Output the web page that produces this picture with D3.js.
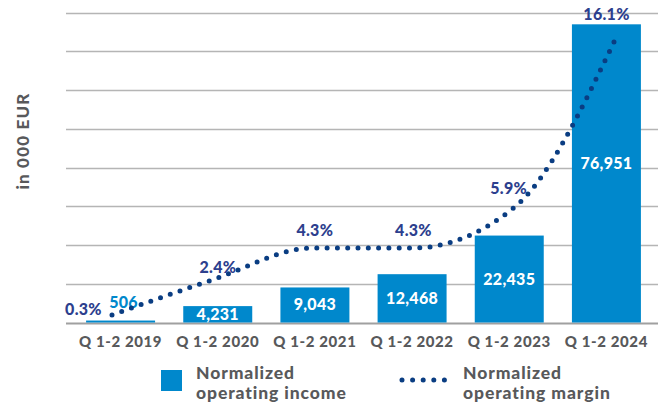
<!DOCTYPE html>
<html><head><meta charset="utf-8">
<script src="https://cdn.jsdelivr.net/npm/d3@7/dist/d3.min.js"></script>
<style>body{margin:0;background:#fff}svg{display:block}text{font-family:Lato,Roboto,sans-serif;font-weight:900}</style>
</head><body><svg id="c" width="662" height="405"></svg>
<script>
const categories = ["Q 1-2 2019","Q 1-2 2020","Q 1-2 2021","Q 1-2 2022","Q 1-2 2023","Q 1-2 2024"];
const incomeValues = [506, 4231, 9043, 12468, 22435, 76951];
const incomeLabels = ["506","4,231","9,043","12,468","22,435","76,951"];
const marginValues = [0.3, 2.4, 4.3, 4.3, 5.9, 16.1];
const marginLabels = ["0.3%","2.4%","4.3%","4.3%","5.9%","16.1%"];
const yTicks = [0,10000,20000,30000,40000,50000,60000,70000,80000];
const legendLabels = [["Normalized","operating income"],["Normalized","operating margin"]];

const BAR="#0088cc", LINE="#0a3d82", PCT="#2d3f8e", GRAY="#58595b", GRID="#b5b5b5";
const svg = d3.select("#c");

const x = d3.scaleBand().domain(categories).range([72,655]).paddingInner(0.29).paddingOuter(0.145);
const y = d3.scaleLinear().domain([0,80000]).range([322.5,12.5]);
const xl = d3.scalePoint().domain(categories).range([112,614]);
const y2 = d3.scaleLinear().domain([0.3,4.3,5.9,16.1]).range([315,248,208,42]);

svg.append("g").selectAll("line").data(yTicks).join("line")
  .attr("x1",66).attr("x2",658).attr("y1",d=>Math.round(y(d))+0.5).attr("y2",d=>Math.round(y(d))+0.5)
  .attr("stroke",d=>d===0?"#a0a0a0":GRID).attr("stroke-width",d=>d===0?2:1.6);

svg.append("g").selectAll("rect").data(incomeValues).join("rect")
  .attr("x",(d,i)=>x(categories[i])).attr("width",x.bandwidth())
  .attr("y",d=>y(d)).attr("height",d=>y(0)-y(d)).attr("fill",BAR);

svg.append("g").selectAll("text").data(incomeValues).join("text")
  .attr("x",(d,i)=>x(categories[i])+x.bandwidth()/2+(i===0?3:0))
  .attr("y",(d,i)=> i===0 ? y(d)-12.5 : (i===5 ? y(d)+145 : (y(d)+y(0))/2+5.5))
  .attr("text-anchor","middle").attr("font-size",16).attr("letter-spacing",0.3).attr("fill",(d,i)=>i===0?BAR:"#fff")
  .text((d,i)=>incomeLabels[i]);

svg.append("g").selectAll("text").data(categories).join("text")
  .attr("x",d=>x(d)+x.bandwidth()/2).attr("y",346.5)
  .attr("text-anchor","middle").attr("font-size",15).attr("letter-spacing",0.6).attr("fill",GRAY).text(d=>d);

svg.append("text").attr("transform","translate(29,141) rotate(-90)")
  .attr("text-anchor","middle").attr("font-size",17).attr("letter-spacing",1.2).attr("fill",GRAY).text("in 000 EUR");

const line = d3.line().x((d,i)=>xl(categories[i])).y(d=>y2(d)).curve(d3.curveMonotoneX);
svg.append("path").datum(marginValues).attr("d",line).attr("fill","none")
  .attr("stroke",LINE).attr("stroke-width",5).attr("stroke-linecap","round").attr("stroke-dasharray","0,10.3");

const pctPos = [[-28.5,0],[5.5,-7],[2,-12],[0.3,-12],[-5,-14],[-7.5,-22]];
svg.append("g").selectAll("text").data(marginValues).join("text")
  .attr("x",(d,i)=>xl(categories[i])+pctPos[i][0]).attr("y",(d,i)=>y2(d)+pctPos[i][1])
  .attr("text-anchor","middle").attr("font-size",16).attr("letter-spacing",0.3).attr("fill",PCT).text((d,i)=>marginLabels[i]);

const lg = svg.append("g");
lg.append("rect").attr("x",161).attr("y",370).attr("width",21).attr("height",21).attr("fill",BAR);
lg.append("line").attr("x1",402).attr("x2",455).attr("y1",380).attr("y2",380)
  .attr("stroke",LINE).attr("stroke-width",5).attr("stroke-linecap","round").attr("stroke-dasharray","0,10.6");
[[196,legendLabels[0]],[463,legendLabels[1]]].forEach(([lx,lines])=>{
  lines.forEach((t,k)=>lg.append("text").attr("x",lx).attr("y",379+k*19.5)
    .attr("font-size",17.5).attr("letter-spacing",0.9).attr("fill",GRAY).text(t));
});
</script></body></html>
